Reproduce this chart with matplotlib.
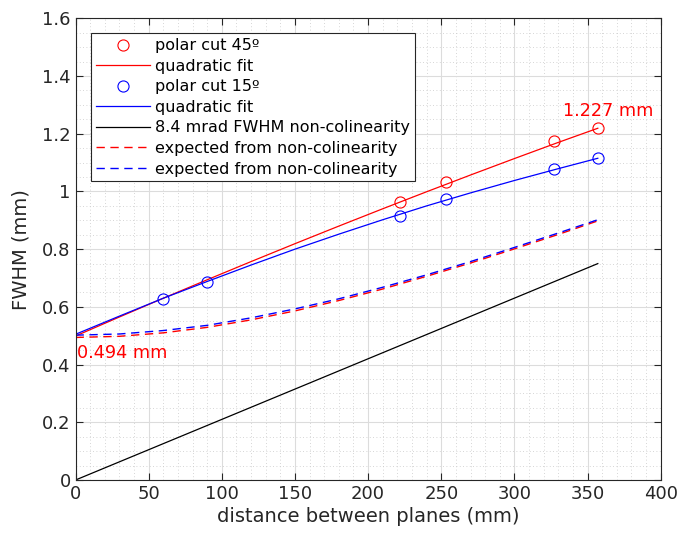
import numpy as np
import matplotlib
matplotlib.use("Agg")
import matplotlib.pyplot as plt
from matplotlib.ticker import MultipleLocator, FormatStrFormatter

dist_45 = [222, 253, 327, 357]
fwhm_45 = [0.964, 1.032, 1.176, 1.219]

dist_15 = [60, 90, 222, 253, 327, 357]
fwhm_15 = [0.627, 0.685, 0.916, 0.974, 1.078, 1.115]

# Curvas (lidas ponto a ponto)
dist_curva = [0, 30, 60, 90, 120, 150, 180, 210, 240, 270, 300, 330, 357]
ajuste_45 = [0.499, 0.565, 0.630, 0.694, 0.757, 0.819, 0.880, 0.940, 0.999, 1.057, 1.114, 1.170, 1.219]
ajuste_15 = [0.505, 0.568, 0.630, 0.688, 0.745, 0.800, 0.852, 0.902, 0.950, 0.995, 1.038, 1.079, 1.115]
esperado_45 = [0.494, 0.498, 0.510, 0.529, 0.555, 0.586, 0.622, 0.662, 0.706, 0.752, 0.801, 0.851, 0.898]
esperado_15 = [0.502, 0.506, 0.518, 0.536, 0.562, 0.593, 0.628, 0.668, 0.711, 0.757, 0.806, 0.856, 0.902]

dist_nc = [0, 357]
fwhm_nc = [0, 0.75]

cinza = "#262626"
tracejado = (0, (6, 4))

fig = plt.figure(figsize=(6.78, 5.34), dpi=100)
ax = fig.add_axes([0.1114, 0.1011, 0.8631, 0.8646])

ax.plot(dist_45, fwhm_45, "o", mfc="none", mec="red", ms=8, mew=0.8, label="polar cut 45º")
ax.plot(dist_curva, ajuste_45, "-", color="red", lw=0.9, label="quadratic fit")
ax.plot(dist_15, fwhm_15, "o", mfc="none", mec="blue", ms=8, mew=0.8, label="polar cut 15º")
ax.plot(dist_curva, ajuste_15, "-", color="blue", lw=0.9, label="quadratic fit")
ax.plot(dist_nc, fwhm_nc, "-", color="black", lw=0.9, label="8.4 mrad FWHM non-colinearity")
ax.plot(dist_curva, esperado_45, color="red", lw=1.0, linestyle=tracejado, label="expected from non-colinearity")
ax.plot(dist_curva, esperado_15, color="blue", lw=1.0, linestyle=tracejado, label="expected from non-colinearity")

ax.text(333, 1.279, "1.227 mm", color="red", fontsize=12.7, va="center", ha="left")
ax.text(1, 0.44, "0.494 mm", color="red", fontsize=12.7, va="center", ha="left")

ax.set_xlim(0, 400)
ax.set_ylim(0, 1.6)
ax.xaxis.set_major_locator(MultipleLocator(50))
ax.xaxis.set_minor_locator(MultipleLocator(10))
ax.yaxis.set_major_locator(MultipleLocator(0.2))
ax.yaxis.set_minor_locator(MultipleLocator(0.05))
ax.yaxis.set_major_formatter(FormatStrFormatter("%g"))

ax.grid(which="major", color="#dcdcdc", lw=0.8)
ax.grid(which="minor", color="#c8c8c8", lw=0.6, linestyle=(0, (1, 3)))
ax.set_axisbelow(True)

ax.tick_params(which="both", direction="in", top=True, right=True, colors=cinza, labelsize=13)
ax.tick_params(which="major", length=5, width=0.8)
ax.tick_params(which="minor", length=0)
for s in ax.spines.values():
    s.set_color(cinza)
    s.set_linewidth(0.8)

ax.set_xlabel("distance between planes (mm)", fontsize=14, color=cinza, labelpad=3)
ax.set_ylabel("FWHM (mm)", fontsize=14, color=cinza, labelpad=8)

leg = ax.legend(loc="upper left", bbox_to_anchor=(0.026, 0.9675), fontsize=11.5, handlelength=3.4,
                labelspacing=0.35, borderpad=0.3, handletextpad=0.35, borderaxespad=0,
                fancybox=False, framealpha=1, edgecolor=cinza)
leg.get_frame().set_linewidth(0.8)

fig.savefig("out.png", dpi=100)
plt.close()
